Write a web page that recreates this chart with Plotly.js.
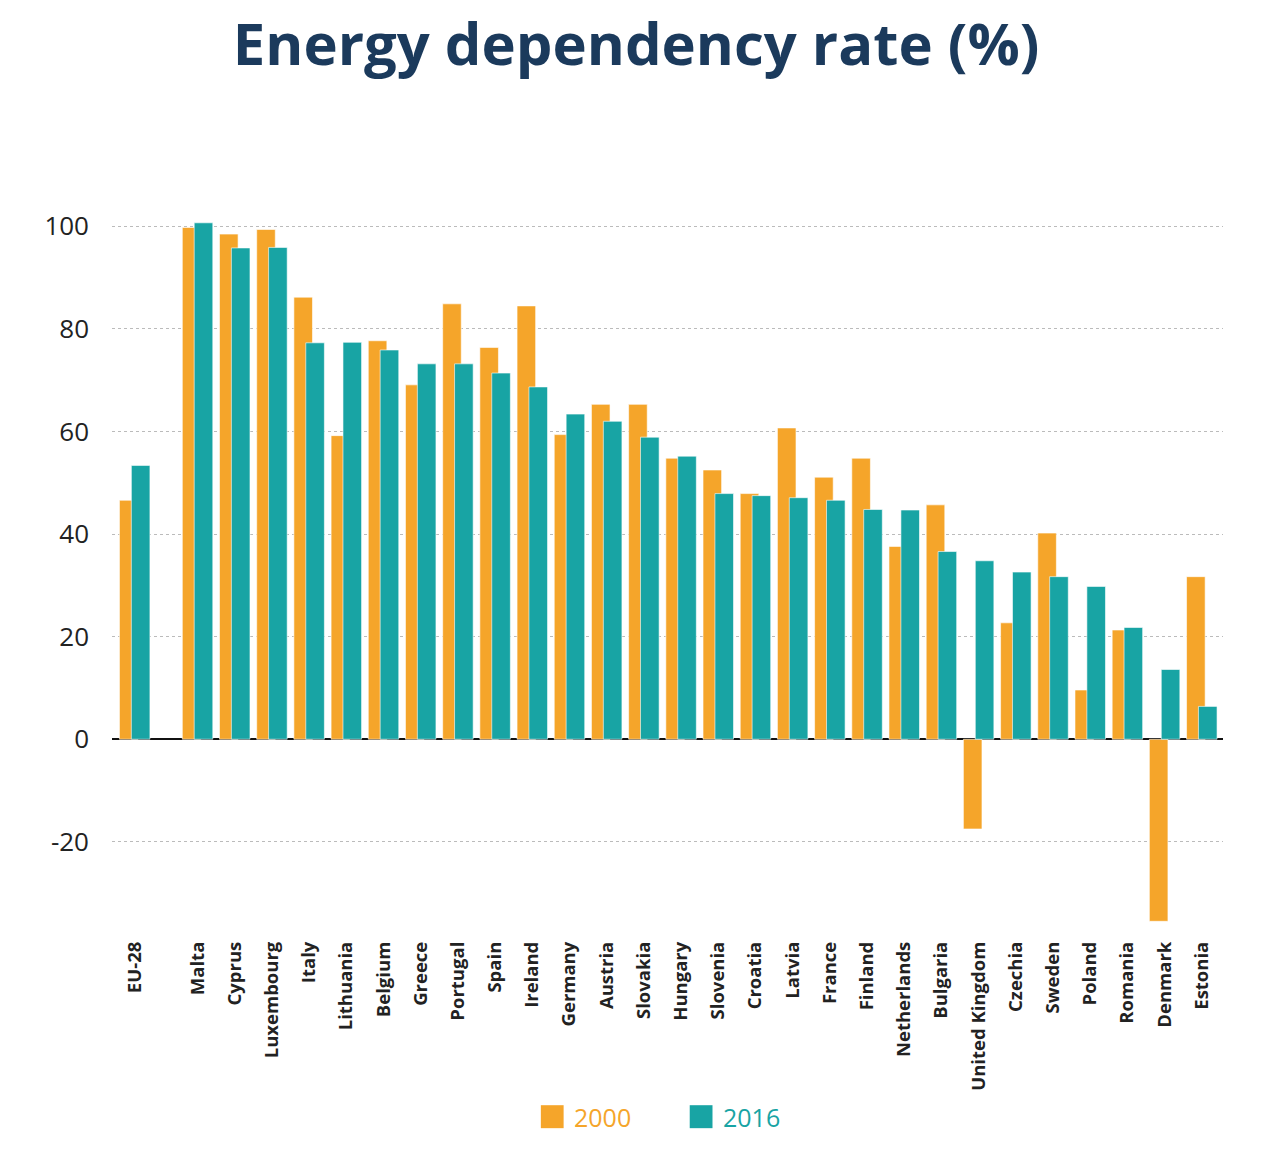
<!DOCTYPE html>
<html>
<head>
<meta charset="utf-8">
<script src="https://cdn.plot.ly/plotly-3.0.1.min.js"></script>
<style>html,body{margin:0;padding:0;background:#fff;}#chart{width:1262px;height:1166px;}</style>
</head>
<body>
<div id="chart"></div>
<script>
const categories = ["EU-28","Malta","Cyprus","Luxembourg","Italy","Lithuania","Belgium","Greece","Portugal","Spain","Ireland","Germany","Austria","Slovakia","Hungary","Slovenia","Croatia","Latvia","France","Finland","Netherlands","Bulgaria","United Kingdom","Czechia","Sweden","Poland","Romania","Denmark","Estonia"];
const values2000 = [46.6,99.8,98.5,99.4,86.2,59.2,77.7,69.1,84.9,76.4,84.5,59.4,65.3,65.3,54.8,52.5,47.9,60.7,51.1,54.8,37.6,45.7,-17.5,22.7,40.2,9.6,21.3,-35.5,31.7];
const values2016 = [53.4,100.7,95.8,95.9,77.3,77.4,75.9,73.2,73.2,71.4,68.7,63.4,62.0,58.9,55.2,47.9,47.5,47.1,46.6,44.8,44.7,36.6,34.8,32.6,31.7,29.8,21.8,13.6,6.4];
const seriesNames = ["2000","2016"];
const colors = ["#F5A52A","#18A4A4"];
const yTicks = [-20,0,20,40,60,80,100];

// EU-28 is set apart from the member states by a wider gap
const xpos = categories.map((c, i) => i === 0 ? -1.69 : i - 1);

const font = "'Open Sans', 'Noto Sans', sans-serif";

const traces = [
  {type:'bar', x:xpos, y:values2000, name:seriesNames[0],
   width:0.5, offset:-0.41, marker:{color:colors[0], line:{color:'rgba(255,255,255,0.6)', width:1}}},
  {type:'bar', x:xpos, y:values2016, name:seriesNames[1],
   width:0.5, offset:-0.09, marker:{color:colors[1], line:{color:'rgba(255,255,255,0.6)', width:1}}}
];

// custom legend (large square swatches, coloured labels)
const legendX = [0.386, 0.520];
const shapes = seriesNames.map((n, i) => ({
  type:'rect', xref:'paper', yref:'paper', x0:legendX[i], x1:legendX[i]+0.0205, y0:-0.2774, y1:-0.2454,
  fillcolor:colors[i], line:{width:0}
}));
const annotations = seriesNames.map((n, i) => ({
  xref:'paper', yref:'paper', x:legendX[i]+0.028, y:-0.2614, xanchor:'left', yanchor:'middle',
  text:n, showarrow:false, font:{family:font, size:25, color:colors[i]}
}));

const layout = {
  width:1262, height:1166,
  paper_bgcolor:'#fff', plot_bgcolor:'#fff',
  margin:{l:112, r:39, t:211, b:237},
  barmode:'overlay',
  title:{text:'<b>Energy dependency rate (%)</b>', x:0.504, xanchor:'center', y:0.962, yanchor:'middle',
         font:{family:font, size:58, color:'#1B3A5C'}},
  xaxis:{range:[-2.30, 27.57], tickvals:xpos, ticktext:categories.map(c=>'<b>'+c+'</b>'),
         tickangle:-90, tickfont:{family:font, size:18.5, color:'#222'}, showgrid:false, zeroline:false,
         showline:false, ticks:'', ticklabelstandoff:8},
  yaxis:{range:[-37, 103], tickvals:yTicks, ticktext:yTicks.map(String),
         tickfont:{family:font, size:26, color:'#222'}, showgrid:true, gridcolor:'#BBBBBB', griddash:'dot', gridwidth:1,
         zeroline:true, zerolinecolor:'#111', zerolinewidth:2, ticks:'', ticklabelstandoff:22, showline:false},
  showlegend:false,
  shapes:shapes,
  annotations:annotations
};

Plotly.newPlot('chart', traces, layout, {displayModeBar:false, staticPlot:true});
</script>
</body>
</html>
